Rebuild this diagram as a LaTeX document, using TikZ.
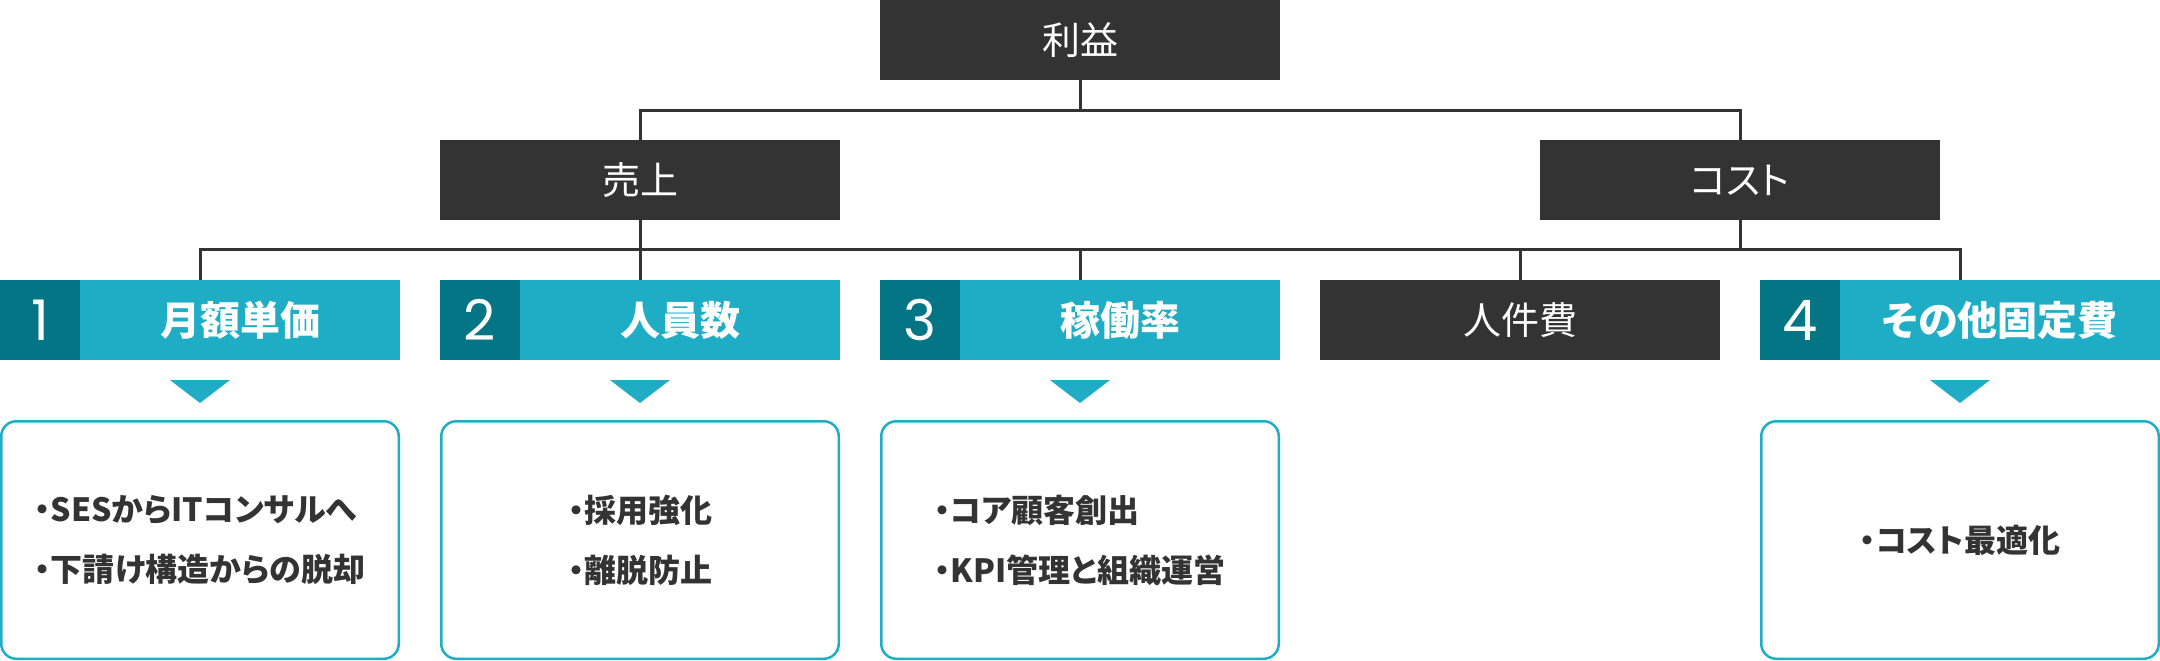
\documentclass[tikz,border=0pt]{standalone}
\usepackage{fontspec}
\newfontfamily\jpfont{Noto Sans CJK JP}[RawFeature=+palt]
\newfontfamily\numfont{Poppins}
\definecolor{box-dark}{HTML}{333333}
\definecolor{teal-light}{HTML}{1FADC6}
\definecolor{teal-dark}{HTML}{047585}

\begin{document}
\begin{tikzpicture}[x=0.5pt, y=-0.5pt,
        every node/.style={inner sep=0pt, font=\jpfont},
        darkbox/.style={fill=box-dark, text=white, minimum width=200pt,
          minimum height=40pt, font=\jpfont\fontsize{19pt}{21pt}\selectfont},
        tealbox/.style={fill=teal-light, minimum width=200pt, minimum height=40pt},
        numbox/.style={fill=teal-dark, text=white, minimum width=40pt,
          minimum height=40pt, anchor=west,
          font=\numfont\fontsize{28pt}{30pt}\selectfont},
        headlabel/.style={text=white,
          font=\jpfont\bfseries\fontsize{20pt}{22pt}\selectfont},
        notebox/.style={draw=teal-light, line width=1.25pt, rounded corners=7.5pt,
          minimum width=198.75pt, minimum height=118.75pt, align=left,
          text=box-dark, font=\jpfont\bfseries\fontsize{16pt}{30pt}\selectfont},
        link/.style={draw=box-dark, line width=1.5pt}]
      \useasboundingbox (0,0) rectangle (2160,660);
      \coordinate (top-bar) at (1080,110);
      \coordinate (mid-bar) at (1080,249);
      % top two levels
      \node[darkbox] (profit) at (1080,40) {利益};
      \node[darkbox] (sales) at (640,180) {売上};
      \node[darkbox] (cost) at (1740,180) {コスト};
      % drivers
      \node[tealbox] (price) at (200,320) {};
      \node[numbox] (price-n) at (price.west) {1};
      \node[headlabel] (price-l) at (240,320) {月額単価};
      \node[tealbox] (staff) at (640,320) {};
      \node[numbox] (staff-n) at (staff.west) {2};
      \node[headlabel] (staff-l) at (680,320) {人員数};
      \node[tealbox] (util) at (1080,320) {};
      \node[numbox] (util-n) at (util.west) {3};
      \node[headlabel] (util-l) at (1120,320) {稼働率};
      \node[darkbox] (labour) at (1520,320) {人件費};
      \node[tealbox] (other) at (1960,320) {};
      \node[numbox] (other-n) at (other.west) {4};
      \node[headlabel] (other-l) at (2000,320) {その他固定費};
      % connectors
      \draw[link] (profit.south) -- (top-bar);
      \draw[link] (sales.north) |- (top-bar) -| (cost.north);
      \draw[link] (sales.south) -- (sales.south |- mid-bar);
      \draw[link] (cost.south) -- (cost.south |- mid-bar);
      \draw[link] (price.north) |- (mid-bar) -| (other.north);
      \foreach \n in {staff, util, labour}
        \draw[link] (\n.north) -- (\n.north |- mid-bar);
      % pointers
      \foreach \x in {200, 640, 1080, 1960}
        \fill[teal-light] (\x-30,380) -- (\x+30,380) -- (\x,403) -- cycle;
      % actions
      \node[notebox] (price-note) at (200,540)
        {・SESからITコンサルへ\\・下請け構造からの脱却};
      \node[notebox] (staff-note) at (640,540) {・採用強化\\・離脱防止};
      \node[notebox] (util-note) at (1080,540)
        {・コア顧客創出\\・KPI管理と組織運営};
      \node[notebox] (other-note) at (1960,540) {・コスト最適化};
    \end{tikzpicture}
\end{document}
